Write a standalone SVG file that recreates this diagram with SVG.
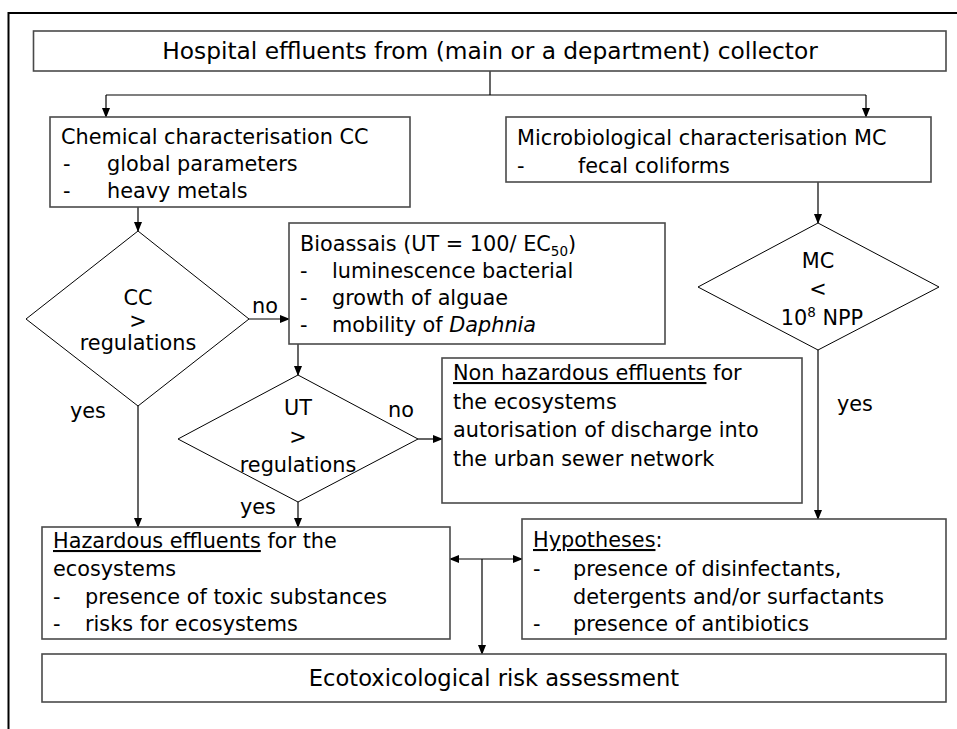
<svg xmlns="http://www.w3.org/2000/svg" width="957" height="729" viewBox="0 0 957 729">
<style>
text{font-family:"DejaVu Sans","Liberation Sans",sans-serif;font-size:20.8px;fill:#000}
.box{fill:#fff;stroke:#4a4a4a;stroke-width:1.6}
.dia{fill:#fff;stroke:#000;stroke-width:1}
.c{fill:none;stroke:#000;stroke-width:1.2}
.big{font-size:23.3px}
.eco{font-size:22.6px}
.m{text-anchor:middle}
.u{text-decoration:underline}
</style>
<defs>
<marker id="ah" markerWidth="10" markerHeight="10" refX="9" refY="5" orient="auto" markerUnits="userSpaceOnUse">
<path d="M0,1 L10,5 L0,9 Z" fill="#000"/>
</marker>
<marker id="as" markerWidth="10" markerHeight="10" refX="1" refY="5" orient="auto" markerUnits="userSpaceOnUse">
<path d="M10,1 L0,5 L10,9 Z" fill="#000"/>
</marker>
</defs>
<rect width="957" height="729" fill="#fff"/>
<path d="M8.5,729 V13 H957" fill="none" stroke="#000" stroke-width="2"/>

<g id="connectors">
<path class="c" d="M490,71 V95"/>
<path class="c" d="M106,95 H866"/>
<path class="c" d="M106,95 V117" marker-end="url(#ah)"/>
<path class="c" d="M866,95 V117" marker-end="url(#ah)"/>
<path class="c" d="M138,207 V231" marker-end="url(#ah)"/>
<path class="c" d="M818,182 V223" marker-end="url(#ah)"/>
<path class="c" d="M249,319 H289" marker-end="url(#ah)"/>
<path class="c" d="M138,406 V527" marker-end="url(#ah)"/>
<path class="c" d="M298,344 V375" marker-end="url(#ah)"/>
<path class="c" d="M418,439 H442" marker-end="url(#ah)"/>
<path class="c" d="M298,502 V527" marker-end="url(#ah)"/>
<path class="c" d="M818,350 V519" marker-end="url(#ah)"/>
<path class="c" d="M450,559 H522" marker-start="url(#as)" marker-end="url(#ah)"/>
<path class="c" d="M482,559 V654" marker-end="url(#ah)"/>
<text x="252" y="313">no</text>
<text x="70" y="418">yes</text>
<text x="388" y="417">no</text>
<text x="240" y="514">yes</text>
<text x="837" y="411">yes</text>
</g>

<g id="title">
<rect class="box" x="33.5" y="31" width="912.5" height="40"/>
<text class="big m" x="490" y="59">Hospital effluents from (main or a department) collector</text>
</g>

<g id="chemical">
<rect class="box" x="50" y="117" width="360" height="90"/>
<text x="61" y="144">Chemical characterisation CC</text>
<text x="63" y="171">-</text><text x="107" y="171">global parameters</text>
<text x="63" y="198">-</text><text x="107" y="198">heavy metals</text>
</g>

<g id="microbio">
<rect class="box" x="506" y="117" width="425" height="65"/>
<text x="517" y="145">Microbiological characterisation MC</text>
<text x="517" y="173">-</text><text x="578" y="173">fecal coliforms</text>
</g>

<g id="cc-decision">
<polygon class="dia" points="138,231 249,319 138,406 26,319"/>
<text class="m" x="138" y="305">CC</text>
<text class="m" x="138" y="328">&gt;</text>
<text class="m" x="138" y="350">regulations</text>
</g>

<g id="bioassays">
<rect class="box" x="289" y="223" width="376" height="121"/>
<text x="300" y="251">Bioassais (UT = 100/ EC<tspan font-size="13.5" dy="5">50</tspan><tspan dy="-5">)</tspan></text>
<text x="300" y="278">-</text><text x="332" y="278">luminescence bacterial</text>
<text x="300" y="305">-</text><text x="332" y="305">growth of alguae</text>
<text x="300" y="332">-</text><text x="332" y="332">mobility of <tspan font-style="italic">Daphnia</tspan></text>
</g>

<g id="mc-decision">
<polygon class="dia" points="818,223 939,287 818,350 698,287"/>
<text class="m" x="818" y="268">MC</text>
<text class="m" x="818" y="296">&lt;</text>
<text class="m" x="822" y="325">10<tspan font-size="13.5" dy="-8">8</tspan><tspan dy="8"> NPP</tspan></text>
</g>

<g id="ut-decision">
<polygon class="dia" points="298,375 418,439 298,502 178,439"/>
<text class="m" x="298" y="415">UT</text>
<text class="m" x="298" y="444">&gt;</text>
<text class="m" x="298" y="472">regulations</text>
</g>

<g id="non-hazardous">
<rect class="box" x="442" y="358" width="360" height="145"/>
<text x="453" y="380"><tspan class="u">Non hazardous effluents</tspan> for</text>
<text x="453" y="409">the ecosystems</text>
<text x="453" y="437">autorisation of discharge into</text>
<text x="453" y="466">the urban sewer network</text>
</g>

<g id="hazardous">
<rect class="box" x="42" y="527" width="408" height="112"/>
<text x="53" y="548"><tspan class="u">Hazardous effluents</tspan> for the</text>
<text x="53" y="576">ecosystems</text>
<text x="53" y="604">-</text><text x="85" y="604">presence of toxic substances</text>
<text x="53" y="631">-</text><text x="85" y="631">risks for ecosystems</text>
</g>

<g id="hypotheses">
<rect class="box" x="522" y="519" width="424" height="120"/>
<text x="533" y="547"><tspan class="u">Hypotheses</tspan>:</text>
<text x="533" y="576">-</text><text x="573" y="576">presence of disinfectants,</text>
<text x="573" y="604">detergents and/or surfactants</text>
<text x="533" y="631">-</text><text x="573" y="631">presence of antibiotics</text>
</g>

<g id="ecotox">
<rect class="box" x="42" y="654" width="904" height="48"/>
<text class="eco m" x="494" y="686">Ecotoxicological risk assessment</text>
</g>
</svg>
